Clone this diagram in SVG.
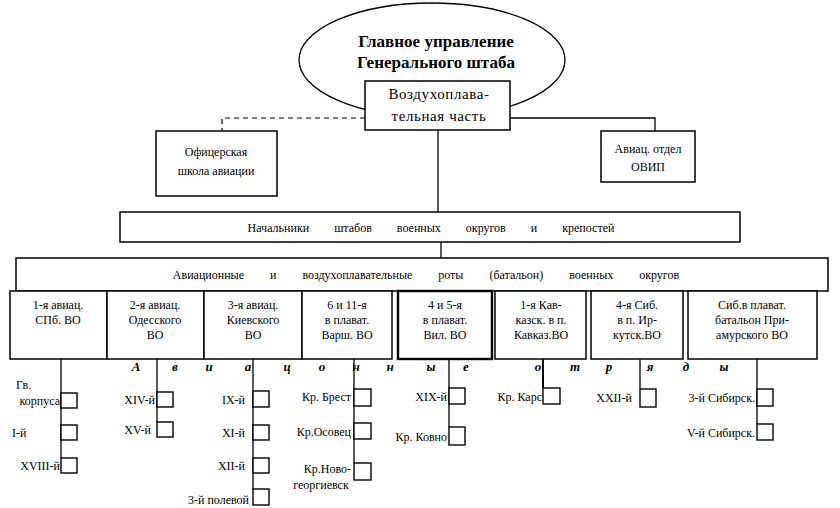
<svg xmlns="http://www.w3.org/2000/svg" width="840" height="508" viewBox="0 0 840 508">
<style>
text{font-family:"Liberation Serif","Times New Roman",serif;fill:#000}
.t{font-size:12px;text-anchor:middle}
.l{font-size:12px}
.e{text-anchor:end}
.b{fill:#fff;stroke:#000;stroke-width:1.5}
.sq{fill:#fff;stroke:#000;stroke-width:1.4}
.c{fill:none;stroke:#000;stroke-width:1.3}
.d{fill:none;stroke:#000;stroke-width:1.2;stroke-dasharray:5 4}
.let{font-size:13px;font-weight:bold;font-style:italic;text-anchor:middle}
</style>
<rect width="840" height="508" fill="#fff"/>
<g id="connectors">
<path class="d" d="M365 118H222V131"/>
<path class="c" d="M510 118H655V131"/>
<path class="c" d="M438 130V212"/>
<path class="c" d="M441 242V258"/>
<path class="c" d="M61 359V458"/>
<path class="c" d="M157 359V422"/>
<path class="c" d="M253 359V489"/>
<path class="c" d="M354 359V463"/>
<path class="c" d="M449 359V427"/>
<path class="c" d="M543 359V388" style="stroke-width:2"/>
<path class="c" d="M640 359V389"/>
<path class="c" d="M757 359V424"/>
</g>
<g id="main">
<ellipse cx="432" cy="60" rx="133" ry="57" fill="#fff" stroke="#000" stroke-width="1.3"/>
<text x="436" y="47" style="font-size:17px;font-weight:bold;text-anchor:middle">Главное управление</text>
<text x="436" y="68" style="font-size:17px;font-weight:bold;text-anchor:middle">Генерального штаба</text>
</g>
<g id="vozdukh">
<rect class="b" x="365" y="81" width="145" height="49"/>
<text x="439" y="99" style="font-size:15px;letter-spacing:0.6px;text-anchor:middle">Воздухоплава-</text>
<text x="439" y="121" style="font-size:15px;letter-spacing:0.6px;text-anchor:middle">тельная часть</text>
</g>
<g id="school">
<rect class="b" x="156" y="131" width="121" height="65"/>
<text class="t" x="216" y="156">Офицерская</text>
<text class="t" x="216" y="175">школа авиации</text>
</g>
<g id="otdel">
<rect class="b" x="601" y="131" width="94" height="51"/>
<text class="t" x="648" y="153">Авиац. отдел</text>
<text class="t" x="648" y="171">ОВИП</text>
</g>
<g id="chiefs">
<rect class="b" x="120" y="212" width="620" height="30"/>
<text class="t" x="431" y="232" style="word-spacing:22px">Начальники штабов военных округов и крепостей</text>
</g>
<g id="companies">
<rect class="b" x="16" y="258" width="812" height="33"/>
<text class="t" x="426" y="279" style="word-spacing:23px">Авиационные и воздухоплавательные роты (батальон) военных округов</text>
</g>
<g id="d1">
<rect class="b" x="10" y="291" width="97" height="68"/>
<text class="t" x="58" y="309">1-я авиац.</text>
<text class="t" x="58" y="324">СПб. ВО</text>
</g>
<g id="d2">
<rect class="b" x="107" y="291" width="97" height="68"/>
<text class="t" x="155" y="309">2-я авиац.</text>
<text class="t" x="155" y="324">Одесского</text>
<text class="t" x="155" y="339">ВО</text>
</g>
<g id="d3">
<rect class="b" x="204" y="291" width="98" height="68"/>
<text class="t" x="253" y="309">3-я авиац.</text>
<text class="t" x="253" y="324">Киевского</text>
<text class="t" x="253" y="339">ВО</text>
</g>
<g id="d4">
<rect class="b" x="302" y="291" width="90" height="68"/>
<text class="t" x="347" y="309">6 и 11-я</text>
<text class="t" x="347" y="324">в плават.</text>
<text class="t" x="347" y="339">Варш. ВО</text>
</g>
<g id="d5">
<rect class="b" x="398" y="291" width="94" height="68" style="stroke-width:2.4"/>
<text class="t" x="445" y="309">4 и 5-я</text>
<text class="t" x="445" y="324">в плават.</text>
<text class="t" x="445" y="339">Вил. ВО</text>
</g>
<g id="d6">
<rect class="b" x="495" y="291" width="91" height="68"/>
<text class="t" x="541" y="309">1-я Кав-</text>
<text class="t" x="541" y="324">казск. в п.</text>
<text class="t" x="541" y="339">Кавказ.ВО</text>
</g>
<g id="d7">
<rect class="b" x="591" y="291" width="92" height="68"/>
<text class="t" x="637" y="309">4-я Сиб.</text>
<text class="t" x="637" y="324">в п. Ир-</text>
<text class="t" x="637" y="339">кутск.ВО</text>
</g>
<g id="d8">
<rect class="b" x="688" y="291" width="129" height="68"/>
<text class="t" x="752" y="309">Сиб.в плават.</text>
<text class="t" x="752" y="324">батальон При-</text>
<text class="t" x="752" y="339">амурского ВО</text>
</g>
<g id="letters">
<text class="let" x="136" y="371">А</text>
<text class="let" x="175" y="371">в</text>
<text class="let" x="209" y="371">и</text>
<text class="let" x="248" y="371">а</text>
<text class="let" x="287" y="371">ц</text>
<text class="let" x="322" y="371">о</text>
<text class="let" x="356" y="371">н</text>
<text class="let" x="390" y="371">н</text>
<text class="let" x="431" y="371">ы</text>
<text class="let" x="466" y="371">е</text>
<text class="let" x="538" y="371">о</text>
<text class="let" x="575" y="371">т</text>
<text class="let" x="609" y="371">р</text>
<text class="let" x="650" y="371">я</text>
<text class="let" x="686" y="371">д</text>
<text class="let" x="724" y="371">ы</text>
</g>
<g id="u1">
<text class="l" x="16" y="389">Гв.</text>
<text class="l e" x="60" y="405">корпуса</text>
<rect class="sq" x="61" y="393" width="16" height="15"/>
<text class="l" x="12" y="437">I-й</text>
<rect class="sq" x="61" y="425" width="16" height="15"/>
<text class="l e" x="60" y="470">XVIII-й</text>
<rect class="sq" x="61" y="458" width="16" height="15"/>
</g>
<g id="u2">
<text class="l e" x="155" y="404">XIV-й</text>
<rect class="sq" x="157" y="392" width="16" height="15"/>
<text class="l e" x="151" y="434">XV-й</text>
<rect class="sq" x="157" y="422" width="16" height="15"/>
</g>
<g id="u3">
<text class="l e" x="245" y="404">IX-й</text>
<rect class="sq" x="253" y="391" width="16" height="16"/>
<text class="l e" x="245" y="437">XI-й</text>
<rect class="sq" x="253" y="425" width="16" height="15"/>
<text class="l e" x="245" y="470">XII-й</text>
<rect class="sq" x="253" y="458" width="16" height="15"/>
<text class="l e" x="249" y="504">3-й полевой</text>
<rect class="sq" x="253" y="489" width="16" height="16"/>
</g>
<g id="u4">
<text class="l e" x="351" y="401">Кр. Брест</text>
<rect class="sq" x="354" y="389" width="17" height="17"/>
<text class="l e" x="351" y="436">Кр.Осовец</text>
<rect class="sq" x="354" y="423" width="17" height="16"/>
<text class="l e" x="351" y="473">Кр.Ново-</text>
<text class="l" x="321" y="489" style="text-anchor:middle">георгиевск</text>
<rect class="sq" x="354" y="463" width="17" height="17"/>
</g>
<g id="u5">
<text class="l e" x="447" y="401">XIX-й</text>
<rect class="sq" x="449" y="388" width="16" height="16"/>
<text class="l e" x="447" y="441">Кр. Ковно</text>
<rect class="sq" x="449" y="427" width="16" height="18"/>
</g>
<g id="u6">
<text class="l e" x="542" y="401">Кр. Карс</text>
<rect class="sq" x="543" y="388" width="17" height="16"/>
</g>
<g id="u7">
<text class="l e" x="632" y="402">XXII-й</text>
<rect class="sq" x="640" y="389" width="16" height="18"/>
</g>
<g id="u8">
<text class="l e" x="755" y="402">3-й Сибирск.</text>
<rect class="sq" x="757" y="389" width="16" height="17"/>
<text class="l e" x="755" y="437">V-й Сибирск.</text>
<rect class="sq" x="757" y="424" width="16" height="16"/>
</g>
</svg>
